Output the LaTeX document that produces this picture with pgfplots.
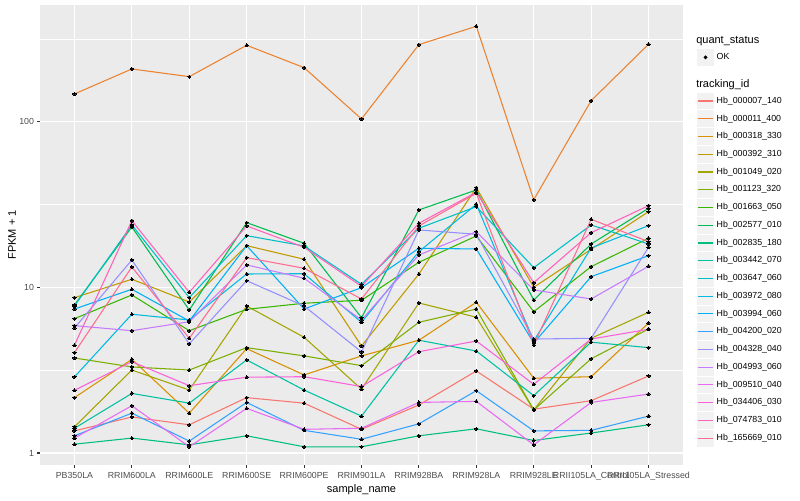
\documentclass[border=0pt]{standalone}
\usepackage{fontspec}
\setmainfont{Liberation Sans}
\usepackage{pgfplots}
\usepackage{pgfplotstable}
\pgfplotsset{compat=1.18}

\definecolor{panel}{HTML}{EBEBEB}
\definecolor{keybg}{HTML}{F2F2F2}
\definecolor{tickgray}{HTML}{4D4D4D}
\definecolor{tickmark}{HTML}{333333}
\definecolor{s01}{HTML}{F8766D}
\definecolor{s02}{HTML}{EA8331}
\definecolor{s03}{HTML}{D89000}
\definecolor{s04}{HTML}{C09B00}
\definecolor{s05}{HTML}{A3A500}
\definecolor{s06}{HTML}{7CAE00}
\definecolor{s07}{HTML}{39B600}
\definecolor{s08}{HTML}{00BB4E}
\definecolor{s09}{HTML}{00BF7D}
\definecolor{s10}{HTML}{00C1A3}
\definecolor{s11}{HTML}{00BFC4}
\definecolor{s12}{HTML}{00BAE0}
\definecolor{s13}{HTML}{00B0F6}
\definecolor{s14}{HTML}{35A2FF}
\definecolor{s15}{HTML}{9590FF}
\definecolor{s16}{HTML}{C77CFF}
\definecolor{s17}{HTML}{E76BF3}
\definecolor{s18}{HTML}{FA62DB}
\definecolor{s19}{HTML}{FF62BC}
\definecolor{s20}{HTML}{FF6C91}

% FPKM + 1, one row per sample (1 = PB350LA ... 11 = RRII105LA_Stressed)
\pgfplotstableread{
i  s01  s02   s03  s04   s05  s06  s07   s08   s09  s10  s11   s12   s13   s14  s15   s16   s17  s18  s19   s20
1  1.36 147.6 2.16 8.68  1.44 3.75 6.48  7.84  1.13 1.41 7.73  2.88  7.41  1.27 5.69  5.88  1.23 2.39 4.48  4.04
2  1.65 209.0 3.68 11.21 3.17 3.31 9.01  23.21 1.23 2.29 23.86 6.89  9.75  1.74 14.66 5.48  1.93 3.56 25.33 13.30
3  1.48 187.8 1.74 8.17  2.40 3.17 5.48  7.31  1.12 2.00 8.68  6.36  6.27  1.18 4.56  6.21  1.09 2.55 9.35  4.93
4  2.16 290.6 4.27 17.89 7.73 4.33 7.38  24.63 1.27 3.65 20.56 12.06 17.89 2.02 10.99 13.68 1.86 2.87 23.53 15.14
5  2.00 212.9 2.96 14.81 5.00 3.86 8.03  18.50 1.09 2.40 17.82 12.11 7.41  1.37 7.73  11.37 1.39 2.89 17.49 13.06
6  1.39 104.3 3.86 4.43  2.43 3.37 8.37  6.57  1.09 1.67 10.45 6.16  9.97  1.21 4.08  6.36  1.41 2.52 10.17 8.52
7  1.95 293.2 4.80 12.06 8.06 6.16 14.20 29.40 1.27 4.80 22.79 16.46 17.25 1.50 22.26 15.72 2.02 4.09 24.43 23.53
8  3.13 378.6 8.14 40.09 6.61 7.41 20.47 38.83 1.40 4.13 30.78 31.82 17.08 2.38 20.96 21.74 2.05 4.75 37.60 37.09
9  1.84 33.9  2.83 10.03 1.82 1.82 7.14  8.40  1.19 2.22 13.17 4.75  4.62  1.36 4.88  9.66  1.12 2.60 10.69 4.49
10 2.07 134.5 2.89 17.01 4.93 3.71 13.36 18.31 1.32 4.67 23.86 17.33 11.62 1.37 4.93  8.52  2.02 4.88 21.43 25.83
11 2.92 294.8 6.10 28.71 7.08 5.61 19.83 30.10 1.48 4.33 18.31 23.63 15.56 1.67 17.49 13.43 2.27 5.59 31.21 18.91
}\fpkm

\pgfplotsset{
  keyfont/.style={font=\fontsize{6.6}{7.9}\selectfont},
  gglegend/.style={
    legend style={draw=none, fill=none, inner sep=0pt, outer sep=0pt,
      row sep=0pt, column sep=2pt, keyfont,
      nodes={inner sep=0pt, text height=4.8pt, text depth=1.4pt}},
    legend cell align=left,
  },
  % grey key box, 13.31pt per row, centred on the key line
  keybox/.code={
    \path[draw=none, fill=none] (0pt,-6.655pt) rectangle (12.75pt,6.655pt);
    \fill[keybg, draw=none] (0pt,-6.3pt) rectangle (12.75pt,6.3pt);
  },
}

\begin{document}
\begin{tikzpicture}
% page frame, 800 x 500 px at 0.75 pt per px
\path (0,0) rectangle (600pt,375pt);

\begin{axis}[
  at={(30pt,26.25pt)}, anchor=south west,
  scale only axis, width=482.25pt, height=345pt,
  set layers, mark layer=axis foreground,
  ymode=log, ymin=0.846, ymax=509,
  xmin=0.4, xmax=11.6,
  xtick={1,...,11},
  xticklabels={PB350LA,RRIM600LA,RRIM600LE,RRIM600SE,RRIM600PE,RRIM901LA,RRIM928BA,RRIM928LA,RRIM928LE,RRII105LA\_Control,RRII105LA\_Stressed},
  ytick={1,10,100}, yticklabels={1,10,100},
  minor ytick={3.1623,31.623,316.23},
  xmajorgrids, ymajorgrids, yminorgrids,
  major grid style={white, line width=0.8pt},
  minor grid style={white, line width=0.4pt},
  axis background/.style={fill=panel},
  axis line style={draw=none},
  tick align=outside, xtick pos=left, ytick pos=left,
  major tick length=2pt, minor tick length=0pt,
  tick style={tickmark, line width=0.8pt},
  ticklabel style={keyfont, text=tickgray},
  yticklabel style={xshift=1pt},
  xlabel={sample\_name}, ylabel={FPKM + 1},
  label style={font=\fontsize{8.25}{9.9}\selectfont},
  xlabel style={at={(axis description cs:0.5,-0.053)}, anchor=center},
  ylabel style={at={(axis description cs:-0.0436,0.5)}, anchor=center},
  every axis plot/.append style={line width=0.8pt, mark=*, mark size=1.2pt,
    mark options={draw=black, fill=black, line width=0pt}},
  gglegend,
  legend style={at={(1.0218,0.8106)}, anchor=north west},
  legend image code/.code={
    \pgfkeys{/pgfplots/keybox}
    \draw (0.75pt,0pt) -- (12pt,0pt);
  },
]
\addplot[s01] table[x=i,y=s01]{\fpkm}; \addlegendentry{Hb\_000007\_140}
\addplot[s02] table[x=i,y=s02]{\fpkm}; \addlegendentry{Hb\_000011\_400}
\addplot[s03] table[x=i,y=s03]{\fpkm}; \addlegendentry{Hb\_000318\_330}
\addplot[s04] table[x=i,y=s04]{\fpkm}; \addlegendentry{Hb\_000392\_310}
\addplot[s05] table[x=i,y=s05]{\fpkm}; \addlegendentry{Hb\_001049\_020}
\addplot[s06] table[x=i,y=s06]{\fpkm}; \addlegendentry{Hb\_001123\_320}
\addplot[s07] table[x=i,y=s07]{\fpkm}; \addlegendentry{Hb\_001663\_050}
\addplot[s08] table[x=i,y=s08]{\fpkm}; \addlegendentry{Hb\_002577\_010}
\addplot[s09] table[x=i,y=s09]{\fpkm}; \addlegendentry{Hb\_002835\_180}
\addplot[s10] table[x=i,y=s10]{\fpkm}; \addlegendentry{Hb\_003442\_070}
\addplot[s11] table[x=i,y=s11]{\fpkm}; \addlegendentry{Hb\_003647\_060}
\addplot[s12] table[x=i,y=s12]{\fpkm}; \addlegendentry{Hb\_003972\_080}
\addplot[s13] table[x=i,y=s13]{\fpkm}; \addlegendentry{Hb\_003994\_060}
\addplot[s14] table[x=i,y=s14]{\fpkm}; \addlegendentry{Hb\_004200\_020}
\addplot[s15] table[x=i,y=s15]{\fpkm}; \addlegendentry{Hb\_004328\_040}
\addplot[s16] table[x=i,y=s16]{\fpkm}; \addlegendentry{Hb\_004993\_060}
\addplot[s17] table[x=i,y=s17]{\fpkm}; \addlegendentry{Hb\_009510\_040}
\addplot[s18] table[x=i,y=s18]{\fpkm}; \addlegendentry{Hb\_034406\_030}
\addplot[s19] table[x=i,y=s19]{\fpkm}; \addlegendentry{Hb\_074783\_010}
\addplot[s20] table[x=i,y=s20]{\fpkm}; \addlegendentry{Hb\_165669\_010}
\end{axis}

% second axis, drawing nothing, only for the quant_status legend
\begin{axis}[
  at={(30pt,26.25pt)}, anchor=south west,
  scale only axis, width=482.25pt, height=345pt,
  hide axis, xmin=0, xmax=1, ymin=0, ymax=1,
  gglegend,
  legend style={at={(1.0218,0.9055)}, anchor=north west},
  legend image code/.code={
    \pgfkeys{/pgfplots/keybox}
    \draw[mark repeat=2, mark phase=2] plot coordinates {(0pt,0pt) (6.375pt,0pt) (12.75pt,0pt)};
  },
]
\addplot[draw=none, forget plot] table[x=i,y=s01]{\fpkm};
\addlegendimage{only marks, mark=*, mark size=1.2pt, black}
\addlegendentry{OK}
\end{axis}

\node[anchor=west, inner sep=0pt, font=\fontsize{8.25}{9.9}\selectfont] at (522pt,344.5pt) {quant\_status};
\node[anchor=west, inner sep=0pt, font=\fontsize{8.25}{9.9}\selectfont] at (522pt,311.8pt) {tracking\_id};
\end{tikzpicture}
\end{document}
